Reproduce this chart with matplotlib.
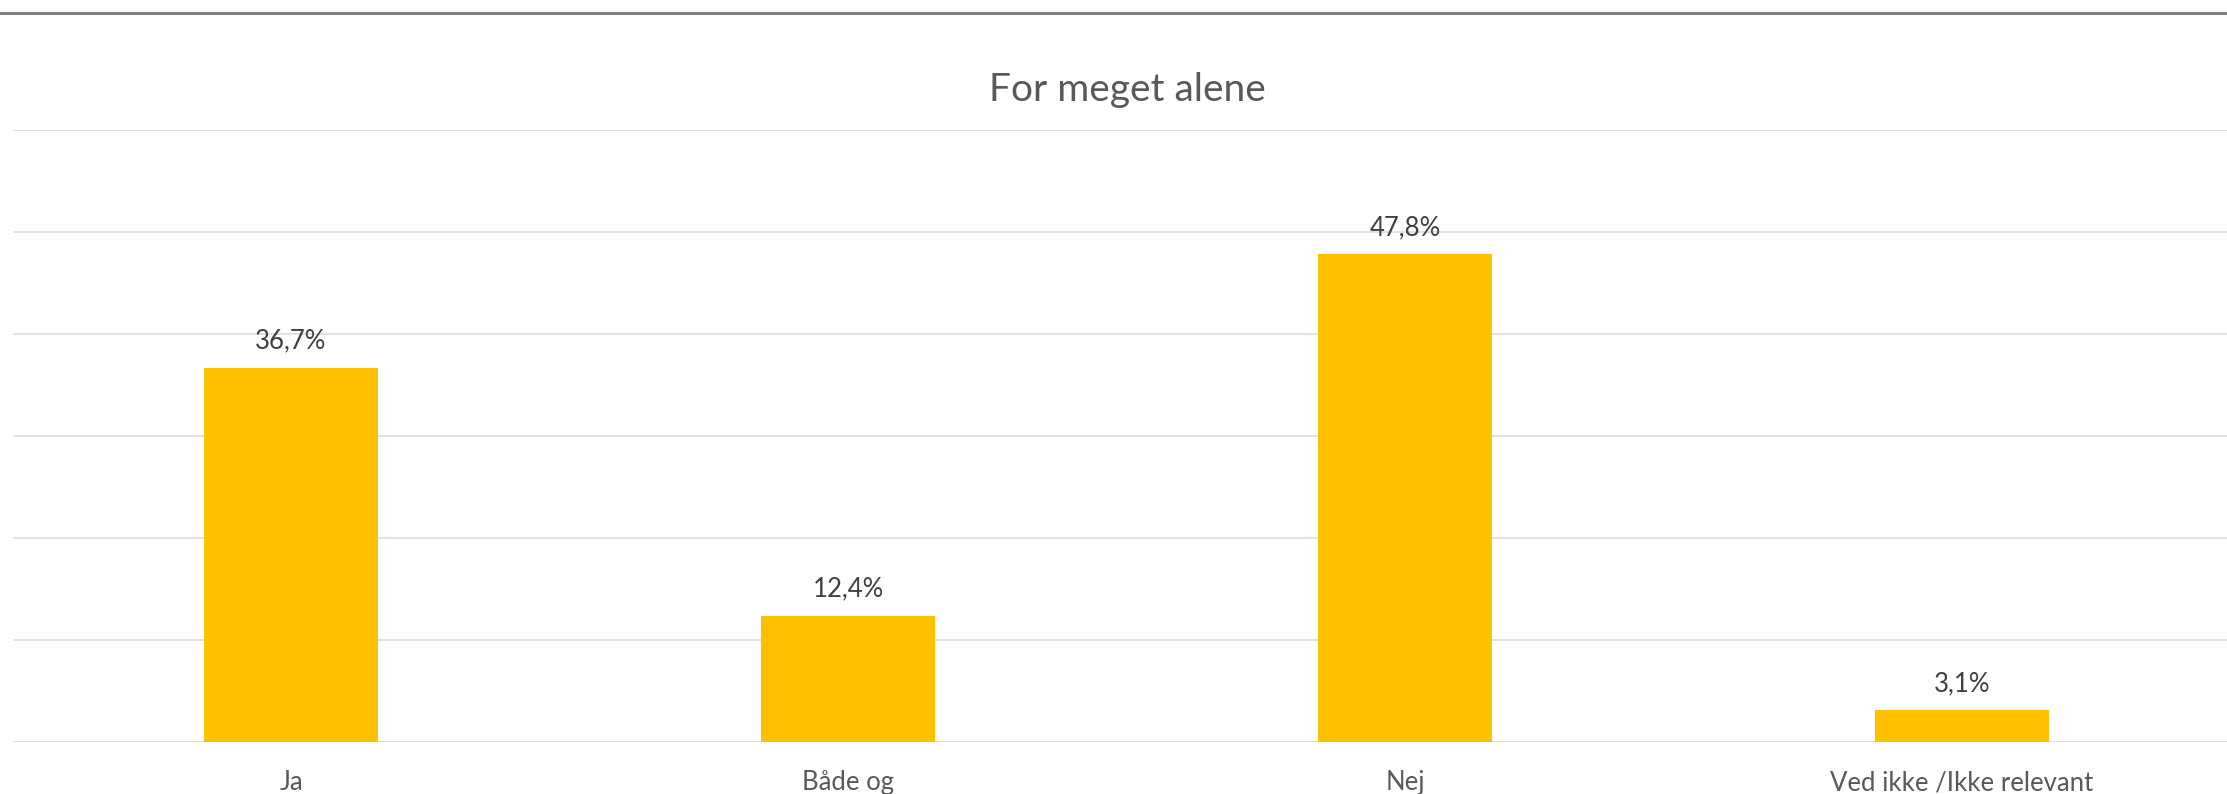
import numpy as np
import matplotlib.pyplot as plt
from matplotlib.lines import Line2D

categories = ["Ja", "Både og", "Nej", "Ved ikke /Ikke relevant"]
values = [36.7, 12.4, 47.8, 3.1]
value_labels = ["36,7%", "12,4%", "47,8%", "3,1%"]
title = "For meget alene"

W, H, DPI = 2227, 794, 100
plt.rcParams['font.family'] = ['Lato', 'DejaVu Sans']

fig = plt.figure(figsize=(W / DPI, H / DPI), dpi=DPI)
fig.patch.set_facecolor('white')

# plot area in pixels: baseline at y=742, 60% line at y=130, one category = 557 px
left, base, top, step = 12.5, 742, 130, 557
ax = fig.add_axes([left / W, (H - base) / H, 4 * step / W, (base - top) / H])

x = np.arange(len(categories))
ax.bar(x, values, width=0.313, color='#FFC000', zorder=3)
ax.set_xlim(-0.5, len(categories) - 0.5)
ax.set_ylim(0, 60)
ax.set_yticks(np.arange(0, 61, 10))
ax.yaxis.grid(True, color='#d9d9d9', linewidth=1.1)
ax.set_axisbelow(True)
ax.tick_params(left=False, labelleft=False, bottom=False, labelbottom=False)
for s in ax.spines.values():
    s.set_visible(False)

# category names under the baseline
for xi, cat in zip(x, categories):
    ax.annotate(cat, (xi, 0), xycoords=('data', 'axes fraction'),
                xytext=(0, -48), textcoords='offset pixels',
                ha='center', va='baseline', fontsize=18.5, color='#595959')

for xi, v, lab in zip(x, values, value_labels):
    ax.annotate(lab, (xi, v), xytext=(0, 19), textcoords='offset pixels',
                ha='center', va='baseline', fontsize=18.5, color='#404040')

fig.text(1127 / W, 1 - 101 / H, title, ha='center', va='baseline',
         fontsize=28, color='#595959')

# dark rule across the top
fig.add_artist(Line2D([0, 1], [1 - 13 / H] * 2, transform=fig.transFigure,
                      color='#7f7f7f', linewidth=2.2))

fig.savefig('out.png', dpi=DPI, facecolor='white')
